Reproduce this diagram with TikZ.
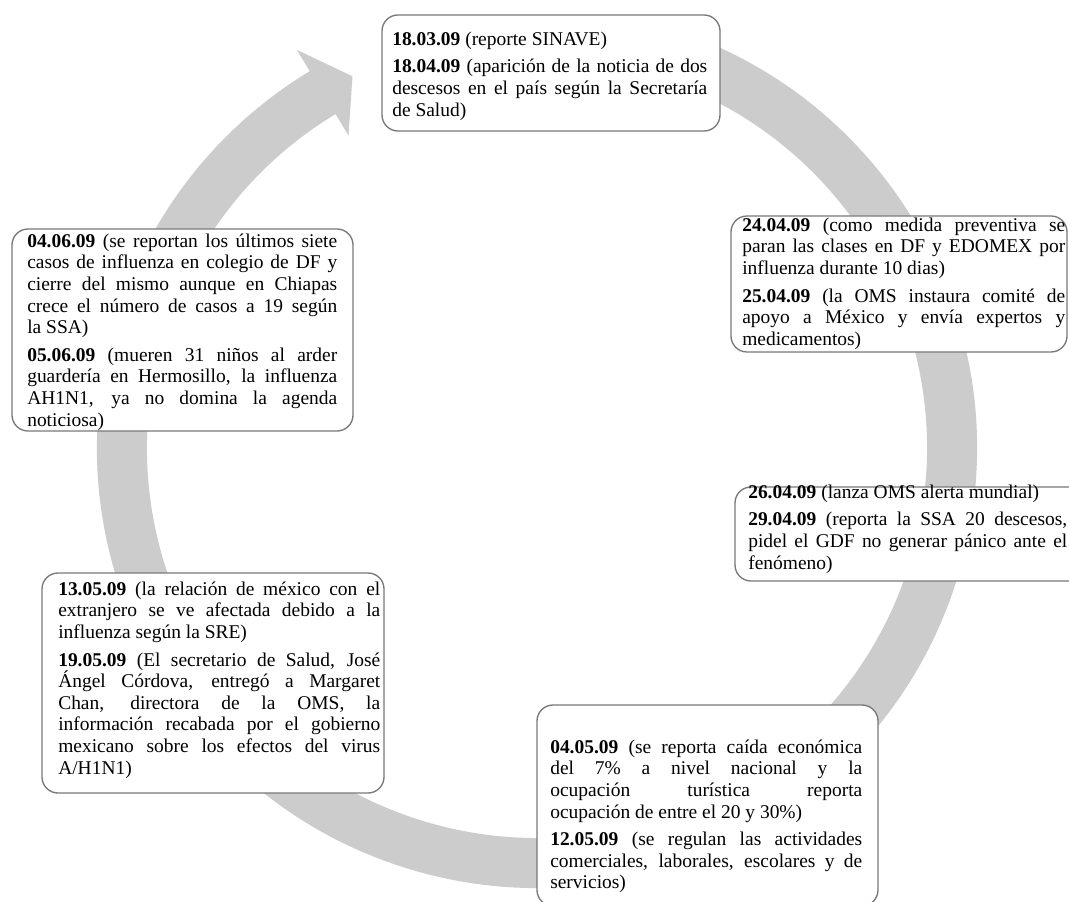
\documentclass[tikz,border=0pt]{standalone}
\usepackage{fontspec}
\setmainfont{Liberation Serif}
\definecolor{ringgray}{RGB}{204,204,204}
\definecolor{boxgray}{RGB}{120,120,120}
\tikzset{
  ringshape/.style={fill=ringgray},
  eventbox/.style={rectangle, draw=boxgray, line width=1pt, fill=white, rounded corners=12pt, inner sep=0pt},
  eventtext/.style={anchor=north west, inner sep=0pt, align=justify,
    font=\fontsize{14.6pt}{16.2pt}\selectfont,
    execute at begin node={\setlength{\parskip}{4.5pt}}},
}
\begin{document}
\begin{tikzpicture}[x=0.75pt,y=0.75pt]
\useasboundingbox (0,0) rectangle (1069,901);
\begin{scope}
\clip (0,0) rectangle (1069,901);
\fill[white] (0,0) rectangle (1069,901);
% circular arrow
\begin{scope}[shift={(537,453)}]
\fill[ringshape] (75:440) arc[start angle=75, end angle=-238.9, radius=440]
  -- (-238.9:465) -- (-243.6:415) -- (-238.9:365) -- (-238.9:390)
  arc[start angle=-238.9, end angle=75, radius=390] -- cycle;
\end{scope}
% boxes
\node[eventbox, minimum width=253.5pt, minimum height=87pt] (b1) at (551,828) {};
\node[eventbox, minimum width=252pt, minimum height=102pt] (b2) at (899,617) {};
\node[eventbox, minimum width=266.25pt, minimum height=70.5pt] (b3) at (912.5,367) {};
\node[eventbox, minimum width=255.75pt, minimum height=151.5pt] (b4) at (182.5,571) {};
\node[eventbox, minimum width=256.5pt, minimum height=165pt] (b5) at (213,218) {};
\node[eventbox, minimum width=255.75pt, minimum height=150.75pt] (b6) at (707.5,95.5) {};
% texts
\node[eventtext, text width=236.25pt] (t1) at (392,871.1) {\strut\textbf{18.03.09} (reporte SINAVE)\par
\textbf{18.04.09} (aparición de la noticia de dos\linebreak descesos en el país según la Secretaría\linebreak de Salud)};
\node[eventtext, text width=242.25pt] (t2) at (742,685.1) {\strut\textbf{24.04.09} (como medida preventiva se\linebreak paran las clases en DF y EDOMEX por\linebreak influenza durante 10 dias)\par
\textbf{25.04.09} (la OMS instaura comité de\linebreak apoyo a México y envía expertos y\linebreak medicamentos)};
\node[eventtext, text width=239.25pt] (t3) at (748,418.1) {\strut\textbf{26.04.09} (lanza OMS alerta mundial)\par
\textbf{29.04.09} (reporta la SSA 20 descesos,\linebreak pidel el GDF no generar pánico ante el\linebreak fenómeno)};
\node[eventtext, text width=232.5pt] (t4) at (27,669.1) {\strut\textbf{04.06.09} (se reportan los últimos siete\linebreak casos de influenza en colegio de DF y\linebreak cierre del mismo aunque en Chiapas\linebreak crece el número de casos a 19 según\linebreak la SSA)\par
\textbf{05.06.09} (mueren 31 niños al arder\linebreak guardería en Hermosillo, la influenza\linebreak AH1N1, ya no domina la agenda\linebreak noticiosa)};
\node[eventtext, text width=241.5pt] (t5) at (58,321.1) {\strut\textbf{13.05.09} (la relación de méxico con el\linebreak extranjero se ve afectada debido a la\linebreak influenza según la SRE)\par
\textbf{19.05.09} (El secretario de Salud, José\linebreak Ángel Córdova, entregó a Margaret\linebreak Chan, directora de la OMS, la\linebreak información recabada por el gobierno\linebreak mexicano sobre los efectos del virus\linebreak A/H1N1)};
\node[eventtext, text width=234pt] (t6) at (550,163.1) {\strut\textbf{04.05.09} (se reporta caída económica\linebreak del 7\% a nivel nacional y la\linebreak ocupación turística reporta\linebreak ocupación de entre el 20 y 30\%)\par
\textbf{12.05.09} (se regulan las actividades\linebreak comerciales, laborales, escolares y de\linebreak servicios)};
\end{scope}
\end{tikzpicture}
\end{document}
